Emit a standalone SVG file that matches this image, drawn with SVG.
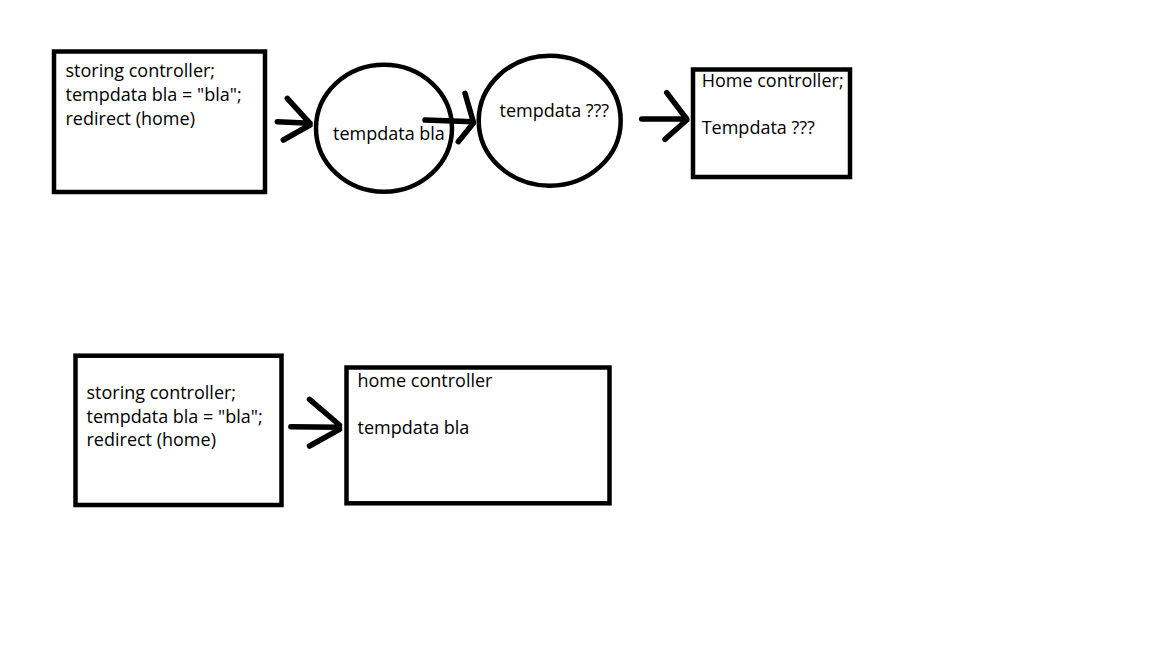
<svg xmlns="http://www.w3.org/2000/svg" width="1152" height="648" viewBox="0 0 1152 648">
<style>
.box{fill:#fff;stroke:#000;stroke-width:4.5}
.t{font-family:"Open Sans","Liberation Sans",sans-serif;font-size:18px;fill:#000}
.arr{fill:none;stroke:#000;stroke-width:5.5;stroke-linecap:round;stroke-linejoin:round}
</style>
<rect width="1152" height="648" fill="#fff"/>
<g id="storing1">
<rect class="box" x="54" y="51.5" width="211" height="140.5"/>
<text class="t" x="65.5" y="77">storing controller;</text>
<text class="t" x="65.5" y="101">tempdata bla = "bla";</text>
<text class="t" x="65.5" y="125">redirect (home)</text>
</g>
<g id="tempdata1">
<ellipse class="box" cx="384" cy="128.3" rx="68" ry="63.5"/>
<text class="t" x="333" y="140">tempdata bla</text>
</g>
<g id="tempdata2">
<ellipse class="box" cx="549.7" cy="120.7" rx="71" ry="65"/>
<text class="t" x="499.5" y="116.7">tempdata ???</text>
</g>
<g id="home1">
<rect class="box" x="693" y="69.5" width="157" height="107.5"/>
<text class="t" x="701.7" y="86.7">Home controller;</text>
<text class="t" x="701.7" y="134.3">Tempdata ???</text>
</g>
<g id="storing2">
<rect class="box" x="75.5" y="355.7" width="206" height="149.3"/>
<text class="t" x="86.5" y="399">storing controller;</text>
<text class="t" x="86.5" y="422.5">tempdata bla = "bla";</text>
<text class="t" x="86.5" y="446">redirect (home)</text>
</g>
<g id="home2">
<rect class="box" x="346.5" y="367.5" width="263" height="135.8"/>
<text class="t" x="357.5" y="386.7">home controller</text>
<text class="t" x="357.5" y="434.3">tempdata bla</text>
</g>
<g id="connectors">
<path class="arr" d="M277.3,121.7 L310,123.3 M287.3,98.3 L310,123.3 M283.3,140 L310,125"/>
<path class="arr" d="M425,120 L473.3,121.7 M465,93.3 L473.3,121.7 M458.3,141.7 L473.3,123.3"/>
<path class="arr" d="M641.7,119 L686.7,119 M666.7,92.7 L686.7,119 M665,139.3 L686.7,120"/>
<path class="arr" d="M290.9,426.7 L339.5,427.3 M309.5,399.3 L339.5,425 M309.5,446 L339.5,429.3"/>
</g>
</svg>
